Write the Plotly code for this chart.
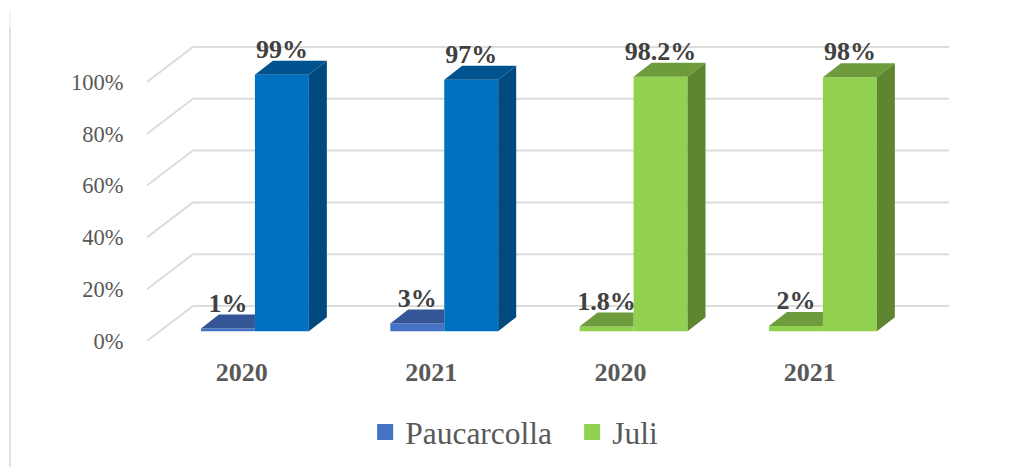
import plotly.graph_objects as go

# Data
years = ["2020", "2021", "2020", "2021"]
low_values = [1, 3, 1.8, 2]
high_values = [99, 97, 98.2, 98]
low_labels = ["1%", "3%", "1.8%", "2%"]
high_labels = ["99%", "97%", "98.2%", "98%"]
y_ticks = [0, 20, 40, 60, 80, 100]
series_names = ["Paucarcolla", "Juli"]

# Colours for each group: front, top, side
low_front = ["#4472C4", "#4472C4", "#92D050", "#92D050"]
low_top = ["#345596", "#345596", "#6E9C3C", "#6E9C3C"]
high_front = ["#0070C0", "#0070C0", "#92D050", "#92D050"]
high_top = ["#00538E", "#00538E", "#6E9C3C", "#6E9C3C"]
high_side = ["#004A80", "#004A80", "#5E8530", "#5E8530"]
legend_colors = ["#4472C4", "#92D050"]

# Fake 3D geometry in axis units
BAR_W = 0.285
DEPTH_X = 0.095
DEPTH_Y = 5.4
FLOOR = 3.8
WALL_X = 0.243
WALL_Y = 13.5
LABEL_GAP = 9.0
X_MIN, X_MAX = -0.570, 3.666
Y_MAX = 118.1
FONT = "Liberation Serif"

fig = go.Figure()


def poly(xs, ys, color):
    fig.add_trace(go.Scatter(
        x=xs + xs[:1], y=ys + ys[:1], mode="lines", fill="toself",
        fillcolor=color, line=dict(width=0), showlegend=False, hoverinfo="skip"
    ))


centers = list(range(len(years)))

# Front faces
fig.add_trace(go.Bar(
    x=[c - BAR_W / 2 for c in centers], y=low_values, base=FLOOR, width=BAR_W,
    marker=dict(color=low_front, line=dict(width=0)), showlegend=False, hoverinfo="skip"
))
fig.add_trace(go.Bar(
    x=[c + BAR_W / 2 for c in centers], y=high_values, base=FLOOR, width=BAR_W,
    marker=dict(color=high_front, line=dict(width=0)), showlegend=False, hoverinfo="skip"
))

# Top and side faces
for i, c in enumerate(centers):
    t = FLOOR + low_values[i]
    x0, x1 = c - BAR_W, c
    poly([x0, x0 + DEPTH_X, x1, x1], [t, t + DEPTH_Y, t + DEPTH_Y, t], low_top[i])

    t = FLOOR + high_values[i]
    x0, x1 = c, c + BAR_W
    poly([x0, x0 + DEPTH_X, x1 + DEPTH_X, x1], [t, t + DEPTH_Y, t + DEPTH_Y, t], high_top[i])
    poly([x1, x1 + DEPTH_X, x1 + DEPTH_X, x1],
         [FLOOR, FLOOR + DEPTH_Y, t + DEPTH_Y, t], high_side[i])

# Data labels
label_font = dict(family=FONT, size=26, color="#404040")
fig.add_trace(go.Scatter(
    x=[c - BAR_W / 2 for c in centers],
    y=[FLOOR + v + LABEL_GAP for v in low_values],
    text=[f"<b>{s}</b>" for s in low_labels], mode="text", textposition="middle center",
    textfont=label_font, showlegend=False, hoverinfo="skip", cliponaxis=False
))
fig.add_trace(go.Scatter(
    x=[c + BAR_W / 2 for c in centers],
    y=[FLOOR + v + LABEL_GAP for v in high_values],
    text=[f"<b>{s}</b>" for s in high_labels], mode="text", textposition="middle center",
    textfont=label_font, showlegend=False, hoverinfo="skip", cliponaxis=False
))

# Legend entries
for name, color in zip(series_names, legend_colors):
    fig.add_trace(go.Scatter(
        x=[None], y=[None], mode="markers", name=name,
        marker=dict(symbol="square", size=17, color=color)
    ))

# Back wall and side wall grid lines
grid = dict(color="#DCDCDC", width=2)
for v in y_ticks:
    fig.add_shape(type="line", layer="below", x0=X_MIN + WALL_X, x1=X_MAX,
                  y0=v + WALL_Y, y1=v + WALL_Y, line=grid)
    fig.add_shape(type="line", layer="below", x0=X_MIN, x1=X_MIN + WALL_X,
                  y0=v, y1=v + WALL_Y, line=grid)

# Rule down the left of the page
fig.add_shape(type="line", xref="paper", yref="paper", x0=-0.1708, x1=-0.1708,
              y0=-0.412, y1=1.026, line=dict(color="#E2E2E2", width=2))
fig.add_shape(type="line", xref="paper", yref="paper", x0=-0.1708, x1=-0.1708,
              y0=1.026, y1=1.08, line=dict(color="#F3F3F3", width=2))

# The page adds 8px of body margin, so the figure is 8px smaller than the window
fig.update_layout(
    width=1009, height=459,
    margin=dict(l=139, r=68, t=27, b=126, autoexpand=False),
    paper_bgcolor="white", plot_bgcolor="white",
    barmode="overlay",
    font=dict(family=FONT),
    legend=dict(
        orientation="h", x=0.272, y=-0.209, xanchor="left", yanchor="top",
        font=dict(family=FONT, size=31.5, color="#595959"),
        itemsizing="trace", bgcolor="rgba(0,0,0,0)", traceorder="normal",
        entrywidth=162, entrywidthmode="pixels"
    )
)
fig.update_xaxes(
    range=[X_MIN, X_MAX], showgrid=False, zeroline=False, showline=False,
    tickmode="array", tickvals=[c - 0.069 for c in centers],
    ticktext=[f"<b>{y}</b>" for y in years],
    ticks="outside", ticklen=8, tickcolor="rgba(0,0,0,0)",
    tickfont=dict(family=FONT, size=26, color="#595959")
)
fig.update_yaxes(
    range=[0, Y_MAX], showgrid=False, zeroline=False, showline=False,
    tickmode="array", tickvals=y_ticks, ticktext=[f"{v}%" for v in y_ticks],
    ticks="outside", ticklen=18, tickcolor="rgba(0,0,0,0)",
    tickfont=dict(family=FONT, size=22.5, color="#595959")
)

fig.write_html("out.html")
